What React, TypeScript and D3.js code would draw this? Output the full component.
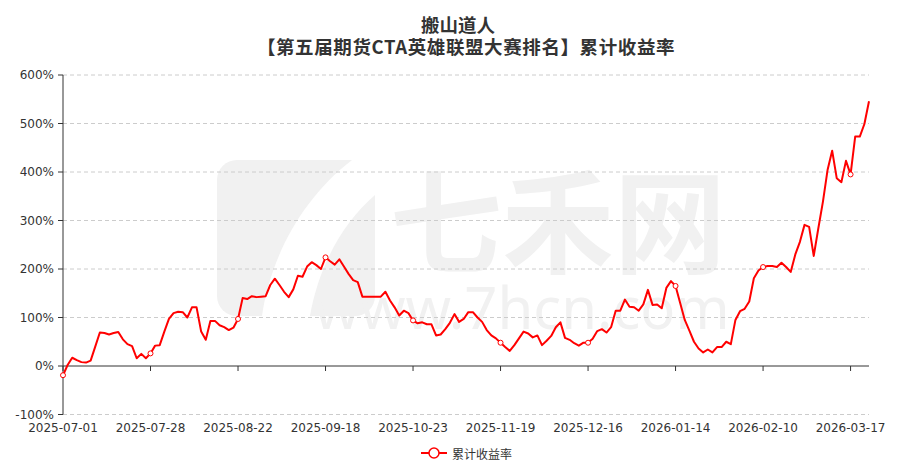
import React from "react";
import * as d3 from "d3";

// ---- data ----
const values: number[] = [
  -19, 2, 17, 12, 8, 7, 11, 40, 69, 68,
  65, 68, 70, 55, 45, 41, 16, 25, 16, 26,
  42, 43, 71, 97, 109, 112, 111, 100, 121, 121,
  71, 54, 93, 93, 84, 80, 74, 79, 97, 140,
  138, 144, 142, 143, 144, 167, 180, 167, 153, 142,
  158, 186, 184, 205, 214, 208, 200, 224, 216, 209,
  220, 205, 190, 177, 173, 143, 143, 143, 143, 143,
  153, 135, 121, 104, 114, 109, 94, 88, 90, 86,
  86, 63, 65, 76, 89, 107, 91, 97, 111, 111,
  100, 91, 74, 63, 57, 48, 39, 31, 43, 57,
  71, 67, 59, 63, 43, 52, 62, 80, 90, 58,
  54, 47, 42, 48, 48, 56, 72, 76, 69, 80,
  114, 114, 137, 122, 121, 114, 127, 157, 126, 127,
  119, 161, 175, 165, 130, 95, 73, 50, 36, 28,
  34, 28, 39, 39, 50, 45, 95, 113, 118, 133,
  181, 197, 204, 206, 206, 204, 213, 204, 194, 230,
  256, 291, 287, 227, 284, 339, 404, 444, 387, 379,
  423, 395, 473, 473, 499, 546,
];
const tickLabels: string[] = [
  "2025-07-01", "2025-07-28", "2025-08-22", "2025-09-18", "2025-10-23",
  "2025-11-19", "2025-12-16", "2026-01-14", "2026-02-10", "2026-03-17",
];
const labelInterval = 19;
const yTicks: number[] = [-100, 0, 100, 200, 300, 400, 500, 600];
const titleLine1 = "搬山道人";
const titleLine2 = "【第五届期货CTA英雄联盟大赛排名】累计收益率";
const seriesName = "累计收益率";

const W = 915, H = 466;
const left = 63, right = 869, top = 75, bottom = 414.5;
const RED = "#ff0000";
const NUM_FONT = "'DejaVu Sans', sans-serif";
const CJK_FONT = "'Noto Sans CJK SC', sans-serif";

export default function App() {
  const idx = values.map((_, i) => i);
  const x = d3.scaleLinear().domain([0, values.length - 1]).range([left, right]);
  const y = d3.scaleLinear().domain([-100, 600]).range([bottom, top]);
  const line = d3.line<number>().x((_, i) => x(i)).y((d) => y(d));
  const markerIdx = idx.filter((i) => i % labelInterval === 0);

  return (
    <svg width={W} height={H} style={{ position: "fixed", left: 0, top: 0, background: "#fff" }}>
      {/* watermark */}
      <g fill="#f1f1f1">
        <rect x={217} y={160} width={158} height={156} rx={20} />
        <path d="M352,160 C300,200 270,260 262,316 L310,316 C318,270 340,225 375,195 L375,160 Z" fill="#fff" />
        <text x={558} y={216} fontSize={112} fontFamily={CJK_FONT} fontWeight={700} textAnchor="middle" dominantBaseline="central">七禾网</text>
        <text x={522} y={306} fontSize={58} fontFamily="'Noto Sans', sans-serif" textAnchor="middle" dominantBaseline="central">www.7hcn.com</text>
      </g>

      {/* title */}
      <text x={458} y={24} textAnchor="middle" dominantBaseline="central" fontSize={18.5} fontWeight={700} fontFamily={CJK_FONT} fill="#333">{titleLine1}</text>
      <text x={466} y={46} textAnchor="middle" dominantBaseline="central" fontSize={18.5} fontWeight={700} fontFamily={CJK_FONT} fill="#333" letterSpacing={0.6}>{titleLine2}</text>

      {/* grid lines */}
      {yTicks.filter((t) => t !== 0).map((t) => (
        <line key={"g" + t} x1={left} x2={right} y1={y(t)} y2={y(t)} stroke="#ccc" strokeDasharray="4,3" />
      ))}

      {/* y axis */}
      <line x1={left} x2={left} y1={top} y2={bottom} stroke="#333" />
      {yTicks.map((t) => (
        <g key={"y" + t}>
          <line x1={left - 5} x2={left} y1={y(t)} y2={y(t)} stroke="#333" />
          <text x={left - 9} y={y(t)} textAnchor="end" dominantBaseline="central" fontSize={12} fontFamily={NUM_FONT} fill="#333">{t + "%"}</text>
        </g>
      ))}

      {/* x axis on zero */}
      <line x1={left} x2={right} y1={y(0)} y2={y(0)} stroke="#333" />
      {tickLabels.map((lab, k) => {
        const xi = x(k * labelInterval);
        return (
          <g key={lab}>
            <line x1={xi} x2={xi} y1={y(0)} y2={y(0) + 5} stroke="#333" />
            <text x={xi} y={428} textAnchor="middle" dominantBaseline="central" fontSize={12} fontFamily={NUM_FONT} fill="#333">{lab}</text>
          </g>
        );
      })}

      {/* series */}
      <path d={line(values) || ""} fill="none" stroke={RED} strokeWidth={2} strokeLinejoin="round" />
      {markerIdx.map((i) => (
        <circle key={"m" + i} cx={x(i)} cy={y(values[i])} r={2.5} fill="#fff" stroke={RED} strokeWidth={1} />
      ))}

      {/* legend */}
      <line x1={421} x2={447} y1={453} y2={453} stroke={RED} strokeWidth={2} />
      <circle cx={434} cy={453} r={5} fill="#fff" stroke={RED} strokeWidth={1.5} />
      <text x={452} y={453} dominantBaseline="central" fontSize={12} fontFamily={CJK_FONT} fill="#333">{seriesName}</text>
    </svg>
  );
}
